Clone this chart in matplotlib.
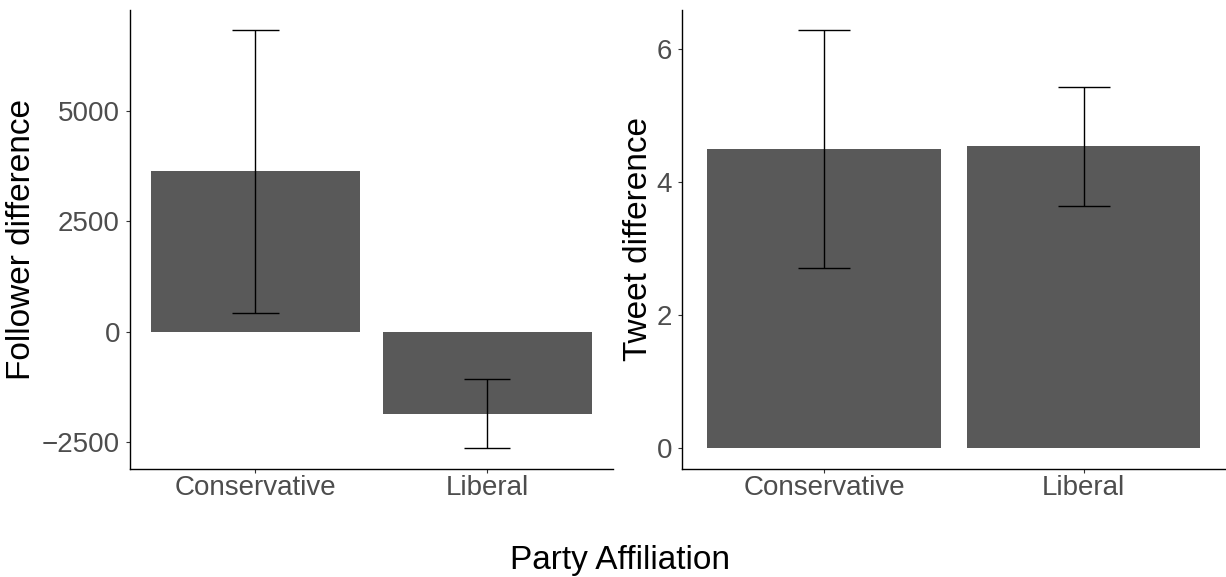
import matplotlib
matplotlib.use("Agg")
import matplotlib.pyplot as plt

plt.rcParams['font.family'] = ['Liberation Sans', 'DejaVu Sans']

parties = ["Conservative", "Liberal"]

# mean follower difference and half-width of the interval
follower_mean = [3630, -1855]
follower_err = [3205, 780]

# mean tweet difference and half-width of the interval
tweet_mean = [4.495, 4.535]
tweet_err = [1.79, 0.895]

follower_ticks = [-2500, 0, 2500, 5000]
tweet_ticks = [0, 2, 4, 6]

BAR = "#595959"
TICK_TXT = "#4D4D4D"
W, H = 1226, 577

fig = plt.figure(figsize=(W / 100, H / 100), dpi=100)


def px_axes(x0, y0, x1, y1):
    # axes box given in pixel coords from the top-left corner
    return fig.add_axes([x0 / W, 1 - y1 / H, (x1 - x0) / W, (y1 - y0) / H])


def style(ax, ticks, ylim, xlim):
    xs = range(1, len(parties) + 1)
    ax.set_xlim(*xlim)
    ax.set_ylim(*ylim)
    ax.set_xticks(list(xs))
    ax.set_xticklabels(parties)
    ax.set_yticks(ticks)
    for side in ("top", "right"):
        ax.spines[side].set_visible(False)
    for side in ("left", "bottom"):
        ax.spines[side].set_linewidth(1.0)
        ax.spines[side].set_color("black")
    ax.tick_params(axis="both", length=3, width=0.8, color="#333333",
                   labelsize=20, labelcolor=TICK_TXT)
    ax.tick_params(axis="y", pad=4)
    ax.tick_params(axis="x", pad=1)


def draw_panel(ax, means, errs):
    xs = list(range(1, len(means) + 1))
    ax.bar(xs, means, width=0.9, color=BAR, zorder=2)
    ax.errorbar(xs, means, yerr=errs, fmt="none", ecolor="black",
                elinewidth=1.0, capsize=0, zorder=3)
    # caps 0.2 wide in data units
    for x, m, e in zip(xs, means, errs):
        ax.hlines([m - e, m + e], x - 0.1, x + 0.1, colors="black",
                  linewidth=1.0, zorder=3)


ax1 = px_axes(129.7, 9.7, 613, 469)
draw_panel(ax1, follower_mean, follower_err)
style(ax1, follower_ticks, (-3106, 7285), (0.458, 2.542))

ax2 = px_axes(681.7, 9.7, 1226, 469)
draw_panel(ax2, tweet_mean, tweet_err)
style(ax2, tweet_ticks, (-0.311, 6.586), (0.451, 2.549))

fig.text(22 / W, 1 - 239 / H, "Follower difference", rotation=90,
         ha="center", va="center", fontsize=24, color="black")
fig.text(638 / W, 1 - 239 / H, "Tweet difference", rotation=90,
         ha="center", va="center", fontsize=24, color="black")
fig.text(620 / W, 1 - 560 / H, "Party Affiliation",
         ha="center", va="center", fontsize=24, color="black")

fig.savefig("out.png", dpi=100)
